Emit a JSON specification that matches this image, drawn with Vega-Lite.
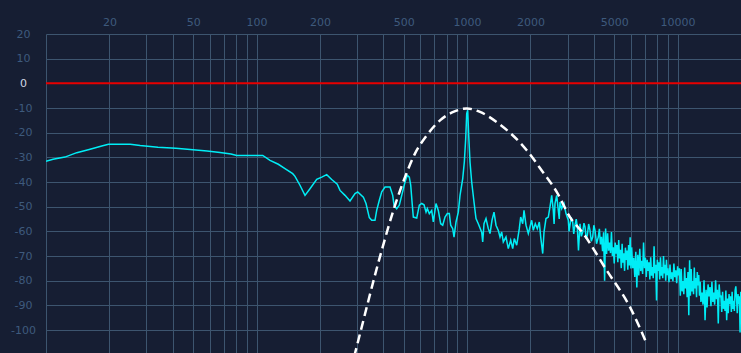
{
  "$schema": "https://vega.github.io/schema/vega-lite/v6.json",
  "width": 695,
  "height": 319,
  "autosize": {"type": "none"},
  "padding": {"left": 46, "top": 34, "right": 0, "bottom": 0},
  "background": "#161e33",
  "config": {"view": {"stroke": null}},
  "datasets": {
    "reference": [{"db": 0}],
    "window": [
      {"f": 279.8, "db": -116.3}, {"f": 293.6, "db": -109.4}, {"f": 393.1, "db": -67.7}, {"f": 454.8, "db": -49.4},
      {"f": 507.2, "db": -38}, {"f": 565.6, "db": -28.5}, {"f": 643.2, "db": -21.1}, {"f": 743.8, "db": -15},
      {"f": 860.2, "db": -11.6}, {"f": 995.9, "db": -10.2}, {"f": 1151.9, "db": -11.6}, {"f": 1382.2, "db": -15.7},
      {"f": 1919.5, "db": -27.1}, {"f": 2262.2, "db": -35.3}, {"f": 2664.9, "db": -44}, {"f": 3081.8, "db": -54.2},
      {"f": 3564.7, "db": -60.9}, {"f": 4603.3, "db": -75.8}, {"f": 5940, "db": -90.7}, {"f": 7131.2, "db": -105.5}
    ],
    "spectrum": [
      {"f": 10, "db": -31.6}, {"f": 10.8, "db": -30.8}, {"f": 12.3, "db": -29.9}, {"f": 14, "db": -28.1},
      {"f": 16.2, "db": -26.7}, {"f": 18.4, "db": -25.4}, {"f": 19.8, "db": -24.7}, {"f": 25.1, "db": -24.7},
      {"f": 28, "db": -25.2}, {"f": 34, "db": -25.9}, {"f": 41.4, "db": -26.3}, {"f": 49.9, "db": -26.9},
      {"f": 58.2, "db": -27.4}, {"f": 67.1, "db": -28}, {"f": 75.6, "db": -28.6}, {"f": 80.5, "db": -29.2},
      {"f": 93.1, "db": -29.2}, {"f": 107, "db": -29.2}, {"f": 115.9, "db": -31.2}, {"f": 126.9, "db": -32.8},
      {"f": 136.5, "db": -34.6}, {"f": 148.5, "db": -36.6}, {"f": 152.3, "db": -37.7}, {"f": 160.8, "db": -41.3},
      {"f": 169.9, "db": -45.4}, {"f": 179.4, "db": -42.7}, {"f": 193.1, "db": -38.9}, {"f": 204, "db": -38},
      {"f": 215.4, "db": -37}, {"f": 227.5, "db": -39}, {"f": 241.8, "db": -40.9}, {"f": 249.1, "db": -43.4},
      {"f": 263.1, "db": -45.4}, {"f": 277.9, "db": -47.7}, {"f": 293.6, "db": -44.7}, {"f": 302.4, "db": -44},
      {"f": 321.6, "db": -46.1}, {"f": 331.1, "db": -48.7}, {"f": 343.3, "db": -54.4}, {"f": 352.4, "db": -55.5},
      {"f": 365.2, "db": -55.5}, {"f": 372.1, "db": -51.5}, {"f": 383, "db": -47.4}, {"f": 393.2, "db": -44},
      {"f": 407.6, "db": -42}, {"f": 430.5, "db": -42}, {"f": 443.4, "db": -45.4}, {"f": 449.8, "db": -49.4},
      {"f": 463.2, "db": -50.8}, {"f": 476.6, "db": -49.4}, {"f": 489.3, "db": -45.4}, {"f": 507.2, "db": -40},
      {"f": 520.2, "db": -37.3}, {"f": 531.7, "db": -38}, {"f": 539.9, "db": -41.3}, {"f": 549.4, "db": -49.4},
      {"f": 555.5, "db": -54.2}, {"f": 576.5, "db": -54.6}, {"f": 593.2, "db": -49.4}, {"f": 609, "db": -48.7},
      {"f": 624.5, "db": -49.2}, {"f": 638.3, "db": -52.2}, {"f": 647.5, "db": -50.8}, {"f": 661.7, "db": -52.8},
      {"f": 679.2, "db": -51.5}, {"f": 691.2, "db": -56.2}, {"f": 711.9, "db": -48.7}, {"f": 730, "db": -51.5},
      {"f": 749.4, "db": -56.9}, {"f": 766, "db": -57.5}, {"f": 785.5, "db": -54.2}, {"f": 805.6, "db": -52.8},
      {"f": 823.3, "db": -52.8}, {"f": 836.1, "db": -57.5}, {"f": 854.6, "db": -58.9}, {"f": 866.9, "db": -62.3},
      {"f": 886, "db": -56.2}, {"f": 908.6, "db": -52.2}, {"f": 925.7, "db": -45.4}, {"f": 953.4, "db": -38.6},
      {"f": 970.3, "db": -31.9}, {"f": 985, "db": -22.4}, {"f": 995.9, "db": -12.3}, {"f": 1006.8, "db": -10.9},
      {"f": 1017.8, "db": -21.1}, {"f": 1032.5, "db": -31.9}, {"f": 1051.7, "db": -40}, {"f": 1078.6, "db": -48.1},
      {"f": 1102.4, "db": -54.8}, {"f": 1130.5, "db": -56.9}, {"f": 1173.3, "db": -60.3}, {"f": 1186.3, "db": -64.3},
      {"f": 1203.1, "db": -56.9}, {"f": 1230, "db": -54.8}, {"f": 1261.3, "db": -58.9}, {"f": 1285, "db": -60.9},
      {"f": 1313.4, "db": -55.5}, {"f": 1342.4, "db": -52.2}, {"f": 1372.1, "db": -57.5}, {"f": 1407, "db": -59.6},
      {"f": 1433.5, "db": -62.3}, {"f": 1460.2, "db": -60.3}, {"f": 1486, "db": -64.3}, {"f": 1530.6, "db": -62.3},
      {"f": 1569.5, "db": -67}, {"f": 1611.3, "db": -63.6}, {"f": 1646.9, "db": -67}, {"f": 1676, "db": -62.9},
      {"f": 1720.6, "db": -65.6}, {"f": 1770.1, "db": -58.9}, {"f": 1797.6, "db": -54.2}, {"f": 1837.3, "db": -56.9},
      {"f": 1863.7, "db": -51.5}, {"f": 1905, "db": -57.5}, {"f": 1953.4, "db": -60.9}, {"f": 1989.8, "db": -58.2},
      {"f": 2027.3, "db": -55.5}, {"f": 2063.1, "db": -59.6}, {"f": 2108.7, "db": -56.9}, {"f": 2155.3, "db": -58.9},
      {"f": 2203, "db": -56.2}, {"f": 2237.2, "db": -62.3}, {"f": 2286.7, "db": -69}, {"f": 2319.1, "db": -60.3},
      {"f": 2370.4, "db": -54.8}, {"f": 2431.2, "db": -54.2}, {"f": 2476.4, "db": -50.1}, {"f": 2522.9, "db": -45.4},
      {"f": 2567.4, "db": -51.5}, {"f": 2590, "db": -57}, {"f": 2615.7, "db": -48.7}, {"f": 2664.9, "db": -45.4},
      {"f": 2712, "db": -51.5}, {"f": 2740, "db": -55}, {"f": 2762.4, "db": -48.1}, {"f": 2814.4, "db": -50.8},
      {"f": 2886, "db": -48.7}, {"f": 2949.8, "db": -52.8}, {"f": 3025.5, "db": -55.5}, {"f": 3050, "db": -60},
      {"f": 3081.8, "db": -57.5}, {"f": 3120, "db": -54.3}, {"f": 3173.9, "db": -56.2}, {"f": 3210, "db": -61},
      {"f": 3255.2, "db": -57.5}, {"f": 3300, "db": -55}, {"f": 3337.9, "db": -58.2}, {"f": 3382, "db": -67.7},
      {"f": 3437.8, "db": -56.9}, {"f": 3490, "db": -62}, {"f": 3540.6, "db": -60.3}, {"f": 3590, "db": -56.7},
      {"f": 3632.2, "db": -58.2}, {"f": 3680, "db": -63}, {"f": 3724.5, "db": -61.6}, {"f": 3780, "db": -57},
      {"f": 3835.9, "db": -59.6}, {"f": 3890, "db": -64}, {"f": 3950.6, "db": -62.3}, {"f": 4000, "db": -57.5},
      {"f": 4051, "db": -59.6}, {"f": 4120, "db": -65}, {"f": 4200.1, "db": -62.3},
      {"f": 4250, "db": -59}, {"f": 4300, "db": -65.3}, {"f": 4350, "db": -62.2}, {"f": 4400, "db": -68},
      {"f": 4450, "db": -60.4}, {"f": 4500, "db": -80}, {"f": 4550, "db": -58.8}, {"f": 4600, "db": -69.2},
      {"f": 4650, "db": -60.8}, {"f": 4700, "db": -67.8}, {"f": 4750, "db": -64.5}, {"f": 4800, "db": -68.8},
      {"f": 4850, "db": -60.3}, {"f": 4900, "db": -70}, {"f": 4950, "db": -66.5}, {"f": 5000, "db": -73},
      {"f": 5050, "db": -64.5}, {"f": 5100, "db": -69}, {"f": 5150, "db": -65.5}, {"f": 5200, "db": -72.5},
      {"f": 5250, "db": -63.5}, {"f": 5300, "db": -71}, {"f": 5350, "db": -67.5}, {"f": 5400, "db": -74.9},
      {"f": 5450, "db": -65}, {"f": 5500, "db": -72.7}, {"f": 5550, "db": -68.9}, {"f": 5600, "db": -76},
      {"f": 5650, "db": -66.6}, {"f": 5700, "db": -71.6}, {"f": 5750, "db": -67.8}, {"f": 5800, "db": -75.5},
      {"f": 5850, "db": -65.5}, {"f": 5900, "db": -73.8}, {"f": 5950, "db": -62.4}, {"f": 6000, "db": -75},
      {"f": 6050, "db": -66.5},
      {"f": 6120, "db": -74.9}, {"f": 6190, "db": -70.7}, {"f": 6260, "db": -78.5}, {"f": 6330, "db": -68.3},
      {"f": 6400, "db": -82.7}, {"f": 6470, "db": -69.5}, {"f": 6540, "db": -77.9}, {"f": 6610, "db": -67.1},
      {"f": 6680, "db": -76.1}, {"f": 6750, "db": -71.9}, {"f": 6820, "db": -77.3}, {"f": 6890, "db": -64.5},
      {"f": 6960, "db": -74.9}, {"f": 7030, "db": -70.7}, {"f": 7100, "db": -78.5}, {"f": 7170, "db": -71.5},
      {"f": 7240, "db": -76}, {"f": 7310, "db": -72.5}, {"f": 7380, "db": -79.5}, {"f": 7450, "db": -70.5},
      {"f": 7520, "db": -78}, {"f": 7590, "db": -74.5}, {"f": 7660, "db": -79}, {"f": 7730, "db": -66},
      {"f": 7800, "db": -77}, {"f": 7870, "db": -73.5}, {"f": 7940, "db": -88}, {"f": 8010, "db": -71.5},
      {"f": 8080, "db": -76}, {"f": 8150, "db": -72.5}, {"f": 8220, "db": -79.5}, {"f": 8290, "db": -70.5},
      {"f": 8360, "db": -78}, {"f": 8430, "db": -74.5}, {"f": 8500, "db": -79}, {"f": 8570, "db": -70},
      {"f": 8640, "db": -77}, {"f": 8710, "db": -73.5}, {"f": 8780, "db": -80}, {"f": 8850, "db": -71.5},
      {"f": 8920, "db": -77.8}, {"f": 8990, "db": -75},
      {"f": 9100, "db": -80.6}, {"f": 9200, "db": -73.4}, {"f": 9300, "db": -79.4}, {"f": 9400, "db": -76.6},
      {"f": 9500, "db": -80.2}, {"f": 9600, "db": -73}, {"f": 9700, "db": -78.6}, {"f": 9800, "db": -75.8},
      {"f": 9900, "db": -81}, {"f": 10000, "db": -74.2}, {"f": 10100, "db": -77.8}, {"f": 10200, "db": -75},
      {"f": 10300, "db": -86.1}, {"f": 10400, "db": -75.3}, {"f": 10500, "db": -84.3}, {"f": 10600, "db": -80.1},
      {"f": 10700, "db": -85.5}, {"f": 10800, "db": -74.7}, {"f": 10900, "db": -83.1}, {"f": 11000, "db": -78.9},
      {"f": 11100, "db": -86.7}, {"f": 11200, "db": -76.5}, {"f": 11300, "db": -94}, {"f": 11400, "db": -71.7},
      {"f": 11500, "db": -86.1}, {"f": 11600, "db": -75.3}, {"f": 11700, "db": -84.3}, {"f": 11800, "db": -80.1},
      {"f": 11900, "db": -85.5}, {"f": 12000, "db": -74.7}, {"f": 12100, "db": -83.1}, {"f": 12200, "db": -78.9},
      {"f": 12300, "db": -86.7}, {"f": 12400, "db": -76.5}, {"f": 12500, "db": -81.9}, {"f": 12600, "db": -77.7},
      {"f": 12700, "db": -86.1}, {"f": 12800, "db": -80.4}, {"f": 12900, "db": -88.6},
      {"f": 13050, "db": -84.8}, {"f": 13200, "db": -89.7}, {"f": 13350, "db": -79.8}, {"f": 13500, "db": -96},
      {"f": 13650, "db": -83.7}, {"f": 13800, "db": -90.8}, {"f": 13950, "db": -81.5}, {"f": 14100, "db": -86.4},
      {"f": 14250, "db": -82.6}, {"f": 14400, "db": -90.3}, {"f": 14550, "db": -80.4}, {"f": 14700, "db": -88.6},
      {"f": 14850, "db": -84.8}, {"f": 15000, "db": -89.7}, {"f": 15150, "db": -79.8}, {"f": 15300, "db": -87.5},
      {"f": 15450, "db": -83.7}, {"f": 15600, "db": -97.3}, {"f": 15750, "db": -81.5}, {"f": 15900, "db": -86.4},
      {"f": 16050, "db": -86.3}, {"f": 16200, "db": -92.7}, {"f": 16350, "db": -84.5}, {"f": 16500, "db": -91.4},
      {"f": 16650, "db": -88.1}, {"f": 16800, "db": -92.3}, {"f": 16950, "db": -84}, {"f": 17100, "db": -96},
      {"f": 17250, "db": -87.2}, {"f": 17400, "db": -93.2}, {"f": 17550, "db": -85.4}, {"f": 17700, "db": -89.5},
      {"f": 17850, "db": -86.3}, {"f": 18000, "db": -92.7}, {"f": 18150, "db": -84.5}, {"f": 18300, "db": -91.4},
      {"f": 18450, "db": -88.1}, {"f": 18600, "db": -92.3}, {"f": 18750, "db": -84}, {"f": 18900, "db": -82.3},
      {"f": 19050, "db": -87.2}, {"f": 19200, "db": -93.2}, {"f": 19350, "db": -85.4}, {"f": 19500, "db": -89.5},
      {"f": 19650, "db": -86.3}, {"f": 19800, "db": -101}, {"f": 19950, "db": -84.5}, {"f": 20000, "db": -90}
    ]
  },
  "encoding": {
    "y": {
      "field": "db", "type": "quantitative",
      "scale": {"domain": [-109.3, 20], "nice": false, "zero": false},
      "axis": {
        "orient": "left",
        "values": [20, 10, 0, -10, -20, -30, -40, -50, -60, -70, -80, -90, -100, -110],
        "labelExpr": "'' + datum.value",
        "grid": true, "gridColor": "#3d556f", "gridWidth": 1, "gridOpacity": 1,
        "ticks": false, "tickSize": 0, "domain": false,
        "labelFont": "DejaVu Sans", "labelFontSize": 11,
        "labelColor": {"condition": {"test": "datum.value === 0", "value": "#d0d8e4"}, "value": "#3e5a7d"},
        "labelAlign": "center", "labelBaseline": "middle", "labelPadding": 23,
        "labelOverlap": false, "labelFlush": false, "title": null
      }
    }
  },
  "layer": [
    {
      "data": {"name": "reference"},
      "mark": {"type": "rule", "color": "#e80000", "strokeWidth": 2}
    },
    {
      "data": {"name": "spectrum"},
      "mark": {"type": "line", "color": "#00eef6", "strokeWidth": 1.5, "clip": true},
      "encoding": {
        "x": {
          "field": "f", "type": "quantitative",
          "scale": {"type": "log", "domain": [10, 20000], "nice": false},
          "axis": {
            "orient": "top",
            "values": [10, 20, 30, 40, 50, 60, 70, 80, 90, 100, 200, 300, 400, 500, 600, 700, 800, 900, 1000, 2000, 3000, 4000, 5000, 6000, 7000, 8000, 9000, 10000],
            "labelExpr": "indexof([20, 50, 100, 200, 500, 1000, 2000, 5000, 10000], datum.value) >= 0 ? '' + datum.value : ''",
            "grid": true, "gridColor": "#3d556f", "gridWidth": 1, "gridOpacity": 1,
            "ticks": false, "tickSize": 0, "domain": false,
            "labelFont": "DejaVu Sans", "labelFontSize": 11, "labelColor": "#3e5a7d",
            "labelBaseline": "alphabetic", "labelPadding": 9,
            "labelOverlap": false, "labelFlush": false, "title": null
          }
        }
      }
    },
    {
      "data": {"name": "window"},
      "mark": {"type": "line", "color": "#ffffff", "strokeWidth": 2.5, "strokeDash": [9, 5], "interpolate": "monotone", "clip": true},
      "encoding": {
        "x": {
          "field": "f", "type": "quantitative",
          "scale": {"type": "log", "domain": [10, 20000], "nice": false},
          "axis": {
            "orient": "top",
            "values": [10, 20, 30, 40, 50, 60, 70, 80, 90, 100, 200, 300, 400, 500, 600, 700, 800, 900, 1000, 2000, 3000, 4000, 5000, 6000, 7000, 8000, 9000, 10000],
            "labelExpr": "indexof([20, 50, 100, 200, 500, 1000, 2000, 5000, 10000], datum.value) >= 0 ? '' + datum.value : ''",
            "grid": true, "gridColor": "#3d556f", "gridWidth": 1, "gridOpacity": 1,
            "ticks": false, "tickSize": 0, "domain": false,
            "labelFont": "DejaVu Sans", "labelFontSize": 11, "labelColor": "#3e5a7d",
            "labelBaseline": "alphabetic", "labelPadding": 9,
            "labelOverlap": false, "labelFlush": false, "title": null
          }
        }
      }
    }
  ]
}
